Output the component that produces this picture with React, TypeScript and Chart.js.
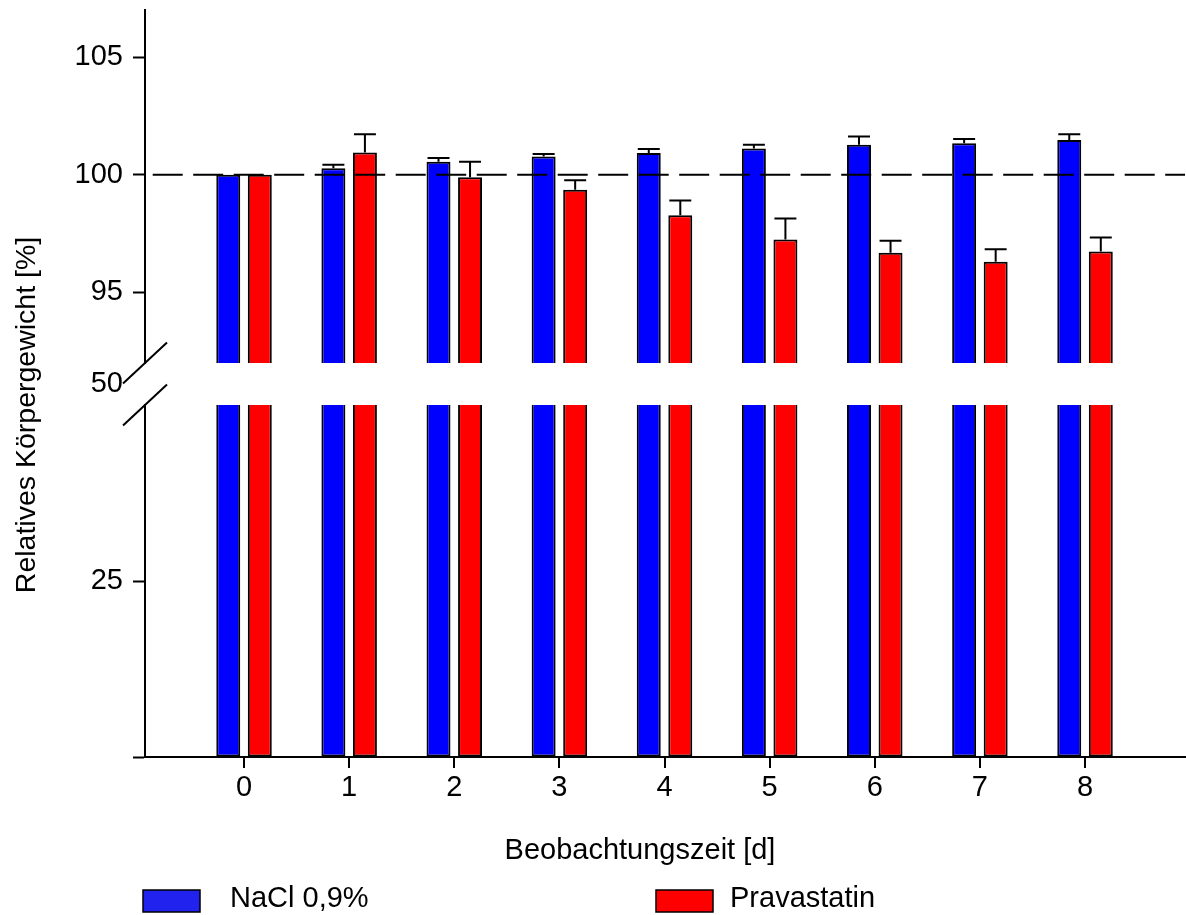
import { useEffect, useRef } from 'react';
import { Chart, registerables } from 'chart.js';

Chart.register(...registerables);

// ---- data ----
const days = [0, 1, 2, 3, 4, 5, 6, 7, 8];
const naclMean = [100, 100.28, 100.55, 100.78, 100.92, 101.11, 101.27, 101.34, 101.48];
const naclSd = [0, 0.14, 0.16, 0.1, 0.17, 0.16, 0.35, 0.18, 0.24];
const pravaMean = [100, 100.94, 99.89, 99.36, 98.28, 97.25, 96.69, 96.3, 96.74];
const pravaSd = [0, 0.78, 0.66, 0.41, 0.62, 0.89, 0.51, 0.53, 0.59];
const seriesNames = ['NaCl 0,9%', 'Pravastatin'];
const upperTicks = [95, 100, 105];
const lowerTicks = [0, 25];
const breakLabel = '50';
const upperRange = [92, 107];
const lowerRange = [0, 50];
const xRange = [-0.942, 8.951];
const referenceValue = 100;
const xTitle = 'Beobachtungszeit [d]';
const yTitle = 'Relatives Körpergewicht [%]';

const FONT = "'Liberation Sans', Arial, Helvetica, sans-serif";
const BAR_COLORS = ['#0000FF', '#FF0000'];
const LEGEND_COLORS = ['#2222EE', '#FF0000'];
const tickFont = { family: FONT, size: 29 };

const decorPlugin = {
  id: 'decor',
  afterDatasetsDraw(chart: any) {
    const ctx = chart.ctx;
    const yTop = chart.scales.yTop;
    ctx.save();
    ctx.strokeStyle = '#000';
    ctx.lineWidth = 2;
    const sets: [number, number[], number[]][] = [
      [1, naclMean, naclSd],
      [2, pravaMean, pravaSd],
    ];
    sets.forEach(([di, means, sds]) => {
      const meta = chart.getDatasetMeta(di);
      meta.data.forEach((bar: any, i: number) => {
        if (!sds[i]) return;
        const yv = yTop.getPixelForValue(means[i]);
        const ye = yTop.getPixelForValue(means[i] + sds[i]);
        const half = bar.width / 2 - 1;
        ctx.beginPath();
        ctx.moveTo(bar.x, yv);
        ctx.lineTo(bar.x, ye);
        ctx.moveTo(bar.x - half, ye);
        ctx.lineTo(bar.x + half, ye);
        ctx.stroke();
      });
    });
    ctx.restore();
  },
  afterDraw(chart: any) {
    const ctx = chart.ctx;
    const { left } = chart.chartArea;
    const yTop = chart.scales.yTop;
    const yBot = chart.scales.yBot;
    ctx.save();
    // axis break slashes
    ctx.strokeStyle = '#000';
    ctx.lineWidth = 2;
    [yTop.bottom, yBot.top].forEach((y: number) => {
      ctx.beginPath();
      ctx.moveTo(left - 22, y + 20.5);
      ctx.lineTo(left + 22, y - 20.5);
      ctx.stroke();
    });
    // titles
    ctx.fillStyle = '#000';
    ctx.font = `29px ${FONT}`;
    ctx.textAlign = 'center';
    ctx.textBaseline = 'alphabetic';
    ctx.fillText(xTitle, 640, 859);
    ctx.save();
    ctx.font = `28.5px ${FONT}`;
    ctx.translate(35, 415);
    ctx.rotate(-Math.PI / 2);
    ctx.fillText(yTitle, 0, 0);
    ctx.restore();
    // legend
    const boxX = [143, 656];
    const textX = [230, 730];
    ctx.textAlign = 'left';
    seriesNames.forEach((name, i) => {
      const x = boxX[i];
      ctx.fillStyle = LEGEND_COLORS[i];
      ctx.fillRect(x, 890, 57, 22);
      ctx.lineWidth = 1.5;
      ctx.strokeStyle = '#000';
      ctx.strokeRect(x, 890, 57, 22);
      ctx.fillStyle = '#000';
      ctx.fillText(name, textX[i], 907);
    });
    ctx.restore();
  },
};

export default function App() {
  const ref = useRef<HTMLCanvasElement | null>(null);
  useEffect(() => {
    if (!ref.current) return;
    const barCommon = { borderColor: '#000', borderWidth: 2, categoryPercentage: 0.6, barPercentage: 0.76 };
    const leftAxisFit = (s: any) => {
      s.width = 145;
      s.paddingTop = 0;
      s.paddingBottom = 0;
    };
    const chart = new Chart(ref.current, {
      type: 'bar',
      data: {
        labels: days,
        datasets: [
          {
            type: 'line',
            label: 'Referenz',
            data: [
              { x: xRange[0], y: referenceValue },
              { x: xRange[1], y: referenceValue },
            ],
            yAxisID: 'yTop',
            borderColor: '#000',
            borderWidth: 2,
            borderDash: [30, 10.5],
            borderDashOffset: 32.8,
            pointRadius: 0,
            order: -1,
          } as any,
          {
            label: seriesNames[0],
            data: naclMean,
            yAxisID: 'yTop',
            stack: 'nacl',
            base: upperRange[0],
            backgroundColor: BAR_COLORS[0],
            ...barCommon,
          },
          {
            label: seriesNames[1],
            data: pravaMean,
            yAxisID: 'yTop',
            stack: 'prava',
            base: upperRange[0],
            backgroundColor: BAR_COLORS[1],
            ...barCommon,
          },
          {
            label: seriesNames[0],
            data: naclMean.map((v) => Math.min(v, lowerRange[1])),
            yAxisID: 'yBot',
            stack: 'nacl',
            borderSkipped: 'top',
            backgroundColor: BAR_COLORS[0],
            ...barCommon,
          },
          {
            label: seriesNames[1],
            data: pravaMean.map((v) => Math.min(v, lowerRange[1])),
            yAxisID: 'yBot',
            stack: 'prava',
            borderSkipped: 'top',
            backgroundColor: BAR_COLORS[1],
            ...barCommon,
          },
        ] as any,
      },
      options: {
        responsive: false,
        animation: false,
        devicePixelRatio: 1,
        events: [],
        layout: { padding: { top: 10, right: 1, left: 0, bottom: 0 } },
        plugins: { legend: { display: false }, tooltip: { enabled: false }, title: { display: false } },
        scales: {
          x: {
            type: 'linear',
            min: xRange[0],
            max: xRange[1],
            offset: false,
            stacked: true,
            afterBuildTicks: (s: any) => {
              s.ticks = days.map((v) => ({ value: v }));
            },
            afterFit: (s: any) => {
              s.height = 158;
              s.paddingLeft = 0;
              s.paddingRight = 0;
            },
            ticks: { font: tickFont, color: '#000', padding: 3, autoSkip: false, maxRotation: 0, callback: (v: any) => String(v) },
            grid: { display: true, offset: false, drawOnChartArea: false, drawTicks: true, tickLength: 11, lineWidth: 2, color: '#000', tickWidth: 2, tickColor: '#000' },
            border: { display: true, color: '#000', width: 2 },
          },
          yBot: {
            type: 'linear',
            position: 'left',
            stack: 'yaxis',
            stackWeight: 352,
            stacked: false,
            min: lowerRange[0],
            max: lowerRange[1],
            afterBuildTicks: (s: any) => {
              s.ticks = lowerTicks.map((v) => ({ value: v }));
            },
            afterFit: leftAxisFit,
            ticks: { font: tickFont, color: '#000', padding: 10, autoSkip: false, callback: (v: any) => (v === 0 ? '' : String(v)) },
            grid: { display: true, drawOnChartArea: false, drawTicks: true, tickLength: 12, tickWidth: 2, tickColor: '#000' },
            border: { display: true, color: '#000', width: 2 },
          },
          yGap: {
            type: 'linear',
            position: 'left',
            stack: 'yaxis',
            stackWeight: 42,
            min: 0,
            max: 1,
            afterBuildTicks: (s: any) => {
              s.ticks = [{ value: 0.5 }];
            },
            afterFit: leftAxisFit,
            ticks: { font: tickFont, color: '#000', padding: 10, autoSkip: false, callback: () => breakLabel },
            grid: { display: false, drawTicks: true, tickLength: 12 },
            border: { display: false },
          },
          yTop: {
            type: 'linear',
            position: 'left',
            stack: 'yaxis',
            stackWeight: 353,
            stacked: false,
            min: upperRange[0],
            max: upperRange[1],
            afterBuildTicks: (s: any) => {
              s.ticks = upperTicks.map((v) => ({ value: v }));
            },
            afterFit: leftAxisFit,
            ticks: { font: tickFont, color: '#000', padding: 10, autoSkip: false, callback: (v: any) => String(v) },
            grid: { display: true, drawOnChartArea: false, drawTicks: true, tickLength: 12, tickWidth: 2, tickColor: '#000' },
            border: { display: true, color: '#000', width: 2 },
          },
        } as any,
      },
      plugins: [decorPlugin],
    });
    return () => chart.destroy();
  }, []);
  return (
    <div style={{ position: 'fixed', left: 0, top: 0, width: 1186, height: 915, background: '#fff' }}>
      <canvas ref={ref} width={1186} height={915} style={{ display: 'block' }} />
    </div>
  );
}
